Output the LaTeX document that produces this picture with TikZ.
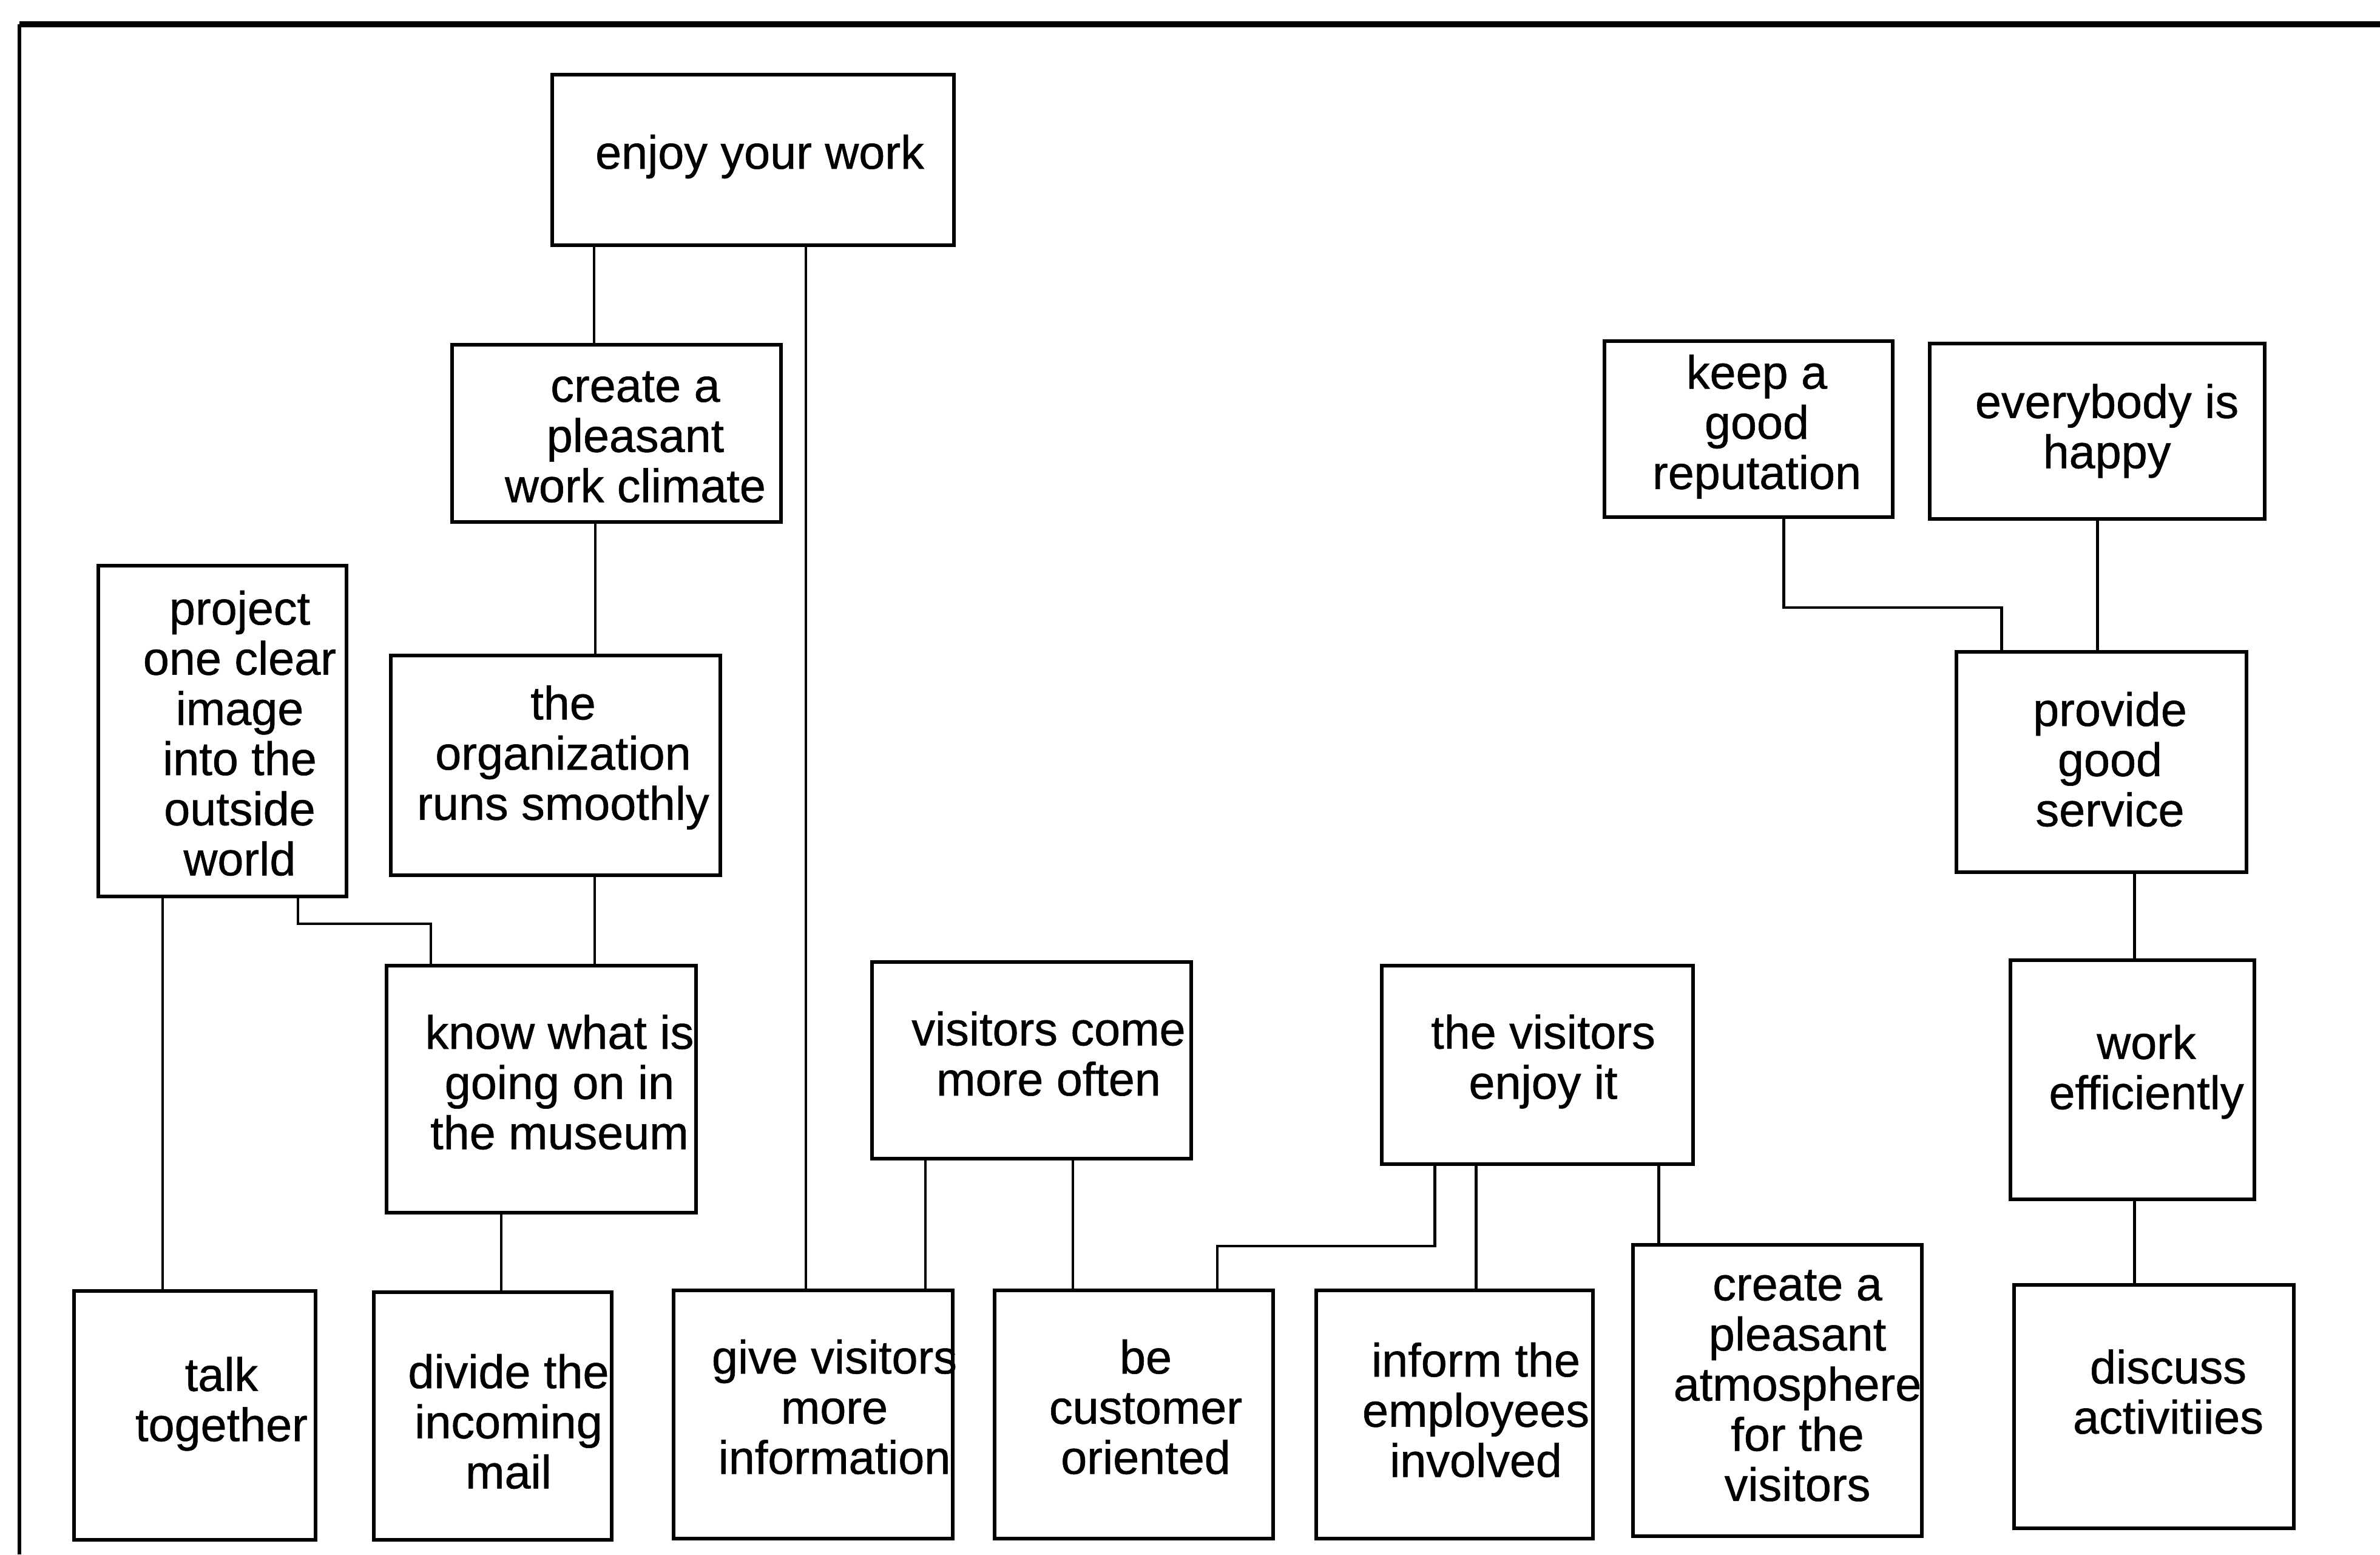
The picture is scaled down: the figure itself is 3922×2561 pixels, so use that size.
\documentclass[tikz,border=0pt]{standalone}
\usepackage{fontspec}
\setmainfont[FakeBold=0.7]{Liberation Sans}
\usetikzlibrary{fit}
\begin{document}
\begin{tikzpicture}[x=0.01cm,y=-0.01cm,
  box/.style={draw, line width=1.8pt, inner sep=0pt, outer sep=0pt},
  lbl/.style={align=center, inner sep=0pt, font=\fontsize{22}{23.5}\selectfont},
  link/.style={line width=1.4pt}]
\useasboundingbox (0,0) rectangle (3922,2561);

% outer frame (left and top edges)
\coordinate (fbl) at (32,2561);
\coordinate (ftl) at (32,40);
\coordinate (ftr) at (3922,40);
\draw[line width=1.5pt] (fbl) -- (ftl);
\draw[line width=2.6pt] (ftl) -- (ftr);

% boxes
\node[box, fit={(910,123) (1572,404)}] (enjoy) {};
\node[box, fit={(745,568) (1287,860)}] (climate) {};
\node[box, fit={(162,932) (571,1477)}] (project) {};
\node[box, fit={(644,1080) (1187,1442)}] (org) {};
\node[box, fit={(637,1591) (1147,1998)}] (know) {};
\node[box, fit={(122,2127) (520,2537)}] (talk) {};
\node[box, fit={(616,2129) (1008,2537)}] (divide) {};
\node[box, fit={(1110,2126) (1570,2535)}] (give) {};
\node[box, fit={(1437,1585) (1963,1909)}] (come) {};
\node[box, fit={(1639,2126) (2098,2535)}] (customer) {};
\node[box, fit={(2169,2126) (2625,2535)}] (inform) {};
\node[box, fit={(2277,1591) (2790,1918)}] (visenjoy) {};
\node[box, fit={(2691,2051) (3167,2531)}] (atmos) {};
\node[box, fit={(2644,562) (3119,852)}] (keep) {};
\node[box, fit={(3180,566) (3732,855)}] (happy) {};
\node[box, fit={(3224,1074) (3702,1437)}] (service) {};
\node[box, fit={(3313,1582) (3715,1976)}] (work) {};
\node[box, fit={(3319,2117) (3780,2518)}] (discuss) {};

% texts
\node[lbl] (enjoyT) at (1252,258) {enjoy your work};
\node[lbl] (climateT) at (1047,720) {create a\\pleasant\\work climate};
\node[lbl] (projectT) at (395,1208) {project\\one clear\\image\\into the\\outside\\world};
\node[lbl] (orgT) at (928,1248) {the\\organization\\runs smoothly};
\node[lbl] (knowT) at (922,1783) {know what is\\going on in\\the museum};
\node[lbl] (talkT) at (365,2313) {talk\\together};
\node[lbl] (divideT) at (838,2342) {divide the\\incoming\\mail};
\node[lbl] (giveT) at (1375,2318) {give visitors\\more\\information};
\node[lbl] (comeT) at (1728,1736) {visitors come\\more often};
\node[lbl] (customerT) at (1888,2318) {be\\customer\\oriented};
\node[lbl] (informT) at (2432,2323) {inform the\\employees\\involved};
\node[lbl] (visenjoyT) at (2543,1749) {the visitors\\enjoy it};
\node[lbl] (atmosT) at (2962,2283) {create a\\pleasant\\atmosphere\\for the\\visitors};
\node[lbl] (keepT) at (2895,703) {keep a\\good\\reputation};
\node[lbl] (happyT) at (3472,710) {everybody is\\happy};
\node[lbl] (serviceT) at (3477,1251) {provide\\good\\service};
\node[lbl] (workT) at (3537,1766) {work\\efficiently};
\node[lbl] (discussT) at (3573,2293) {discuss\\activitiies};

% connectors
\draw[link] (enjoy.south -| 979,0) -- (climate.north -| 979,0);
\draw[link] (enjoy.south -| 1328,0) -- (give.north -| 1328,0);
\draw[link] (climate.south -| 981,0) -- (org.north -| 981,0);
\draw[link] (org.south -| 980,0) -- (know.north -| 980,0);
\draw[link] (project.south -| 491,0) -- (491,1522) -- (710,1522) -- (know.north -| 710,0);
\draw[link] (project.south -| 268,0) -- (talk.north -| 268,0);
\draw[link] (know.south -| 826,0) -- (divide.north -| 826,0);
\draw[link] (come.south -| 1525,0) -- (give.north -| 1525,0);
\draw[link] (come.south -| 1768,0) -- (customer.north -| 1768,0);
\draw[link] (visenjoy.south -| 2364,0) -- (2364,2053) -- (2006,2053) -- (customer.north -| 2006,0);
\draw[link] (visenjoy.south -| 2432,0) -- (inform.north -| 2432,0);
\draw[link] (visenjoy.south -| 2733,0) -- (atmos.north -| 2733,0);
\draw[link] (keep.south -| 2939,0) -- (2939,1001) -- (3298,1001) -- (service.north -| 3298,0);
\draw[link] (happy.south -| 3456,0) -- (service.north -| 3456,0);
\draw[link] (service.south -| 3517,0) -- (work.north -| 3517,0);
\draw[link] (work.south -| 3517,0) -- (discuss.north -| 3517,0);
\end{tikzpicture}
\end{document}
